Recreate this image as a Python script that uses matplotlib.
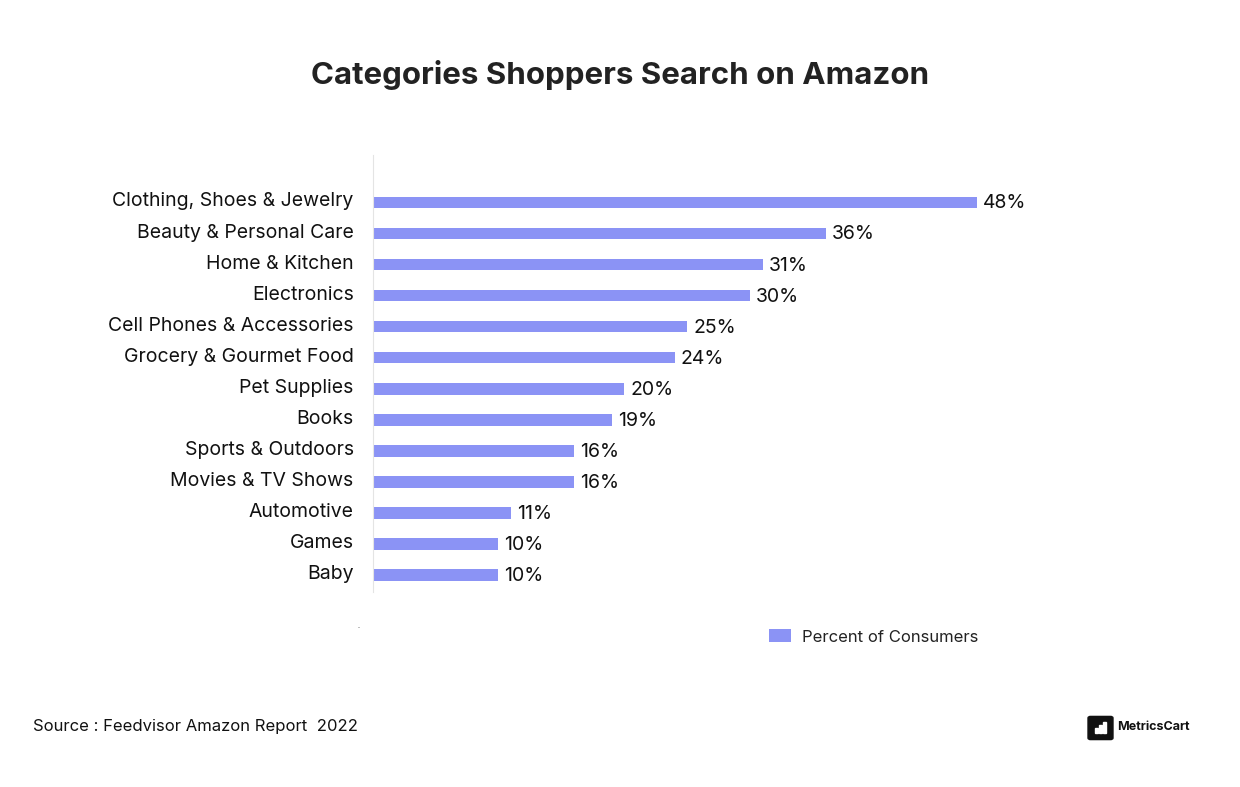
import matplotlib
matplotlib.use("Agg")
import matplotlib.pyplot as plt
from matplotlib.patches import FancyBboxPatch, Rectangle
from matplotlib.transforms import ScaledTranslation

categories = ["Clothing, Shoes & Jewelry", "Beauty & Personal Care", "Home & Kitchen",
              "Electronics", "Cell Phones & Accessories", "Grocery & Gourmet Food",
              "Pet Supplies", "Books", "Sports & Outdoors", "Movies & TV Shows",
              "Automotive", "Games", "Baby"]
values = [48, 36, 31, 30, 25, 24, 20, 19, 16, 16, 11, 10, 10]
value_labels = ["48%", "36%", "31%", "30%", "25%", "24%", "20%", "19%", "16%", "16%", "11%", "10%", "10%"]
series_name = "Percent of Consumers"
title = "Categories Shoppers Search on Amazon"
source = "Source : Feedvisor Amazon Report  2022"
brand = "MetricsCart"

W, H = 1240, 787
FONT = ['Inter', 'DejaVu Sans']
BAR = "#8B93F5"
plt.rcParams['font.family'] = FONT
fig = plt.figure(figsize=(W/100, H/100), dpi=100, facecolor="white")

left, right, top, bottom = 372.5, 977, 155, 592
ax = fig.add_axes([left/W, 1-bottom/H, (right-left)/W, (bottom-top)/H])
ypos = list(range(len(categories)))
ax.barh(ypos, values, height=0.37, color=BAR, label=series_name)
ax.set_xlim(0, 48)
ax.set_ylim(len(categories)-0.33-0.128, -1.4-0.128)
ax.set_yticks(ypos, categories, fontsize=14, color="#111111")
ax.tick_params(axis='y', length=0, pad=13.5)
up = ScaledTranslation(0, 3/100, fig.dpi_scale_trans)
for lab in ax.get_yticklabels():
    lab.set_transform(lab.get_transform() + up)
ax.xaxis.set_visible(False)
for s in ["top", "right", "bottom"]:
    ax.spines[s].set_visible(False)
ax.spines["left"].set_color("#E4E4E4")
ax.patch.set_alpha(0)
for y, v, l in zip(ypos, values, value_labels):
    ax.annotate(l, (v, y), xytext=(4.3, -0.7), textcoords="offset points", va="center", ha="left",
                fontsize=14, color="#111111", annotation_clip=False)

fig.text(620/W, 1-75/H, title, ha="center", va="center", fontsize=22.5, fontweight="bold", color="#222222")
fig.legend(loc="center left", bbox_to_anchor=(769/W, 1-637/H), frameon=False, fontsize=12,
           handlelength=1.32, handleheight=0.78, handletextpad=0.66, borderpad=0, borderaxespad=0,
           labelcolor="#222222")
fig.text(33/W, 1-727/H, source, ha="left", va="center", fontsize=12, color="#111111")
fig.text(358/W, 1-628/H, ".", ha="center", va="baseline", fontsize=5, color="#333333")

# logo
fig.add_artist(FancyBboxPatch((1090.5/W, 1-738/H), 20/W, 20/H, boxstyle="round,pad=0.002",
                              transform=fig.transFigure, color="#111111"))
for bx, bh in [(1095, 5), (1099, 8), (1103, 11)]:
    fig.add_artist(Rectangle((bx/W, 1-733/H), 2.5/W, bh/H, transform=fig.transFigure, color="white"))
fig.text(1117/W, 1-727/H, brand, ha="left", va="center", fontsize=9, fontweight="bold", color="#111111")
fig.savefig("out.png", dpi=100, facecolor="white")
